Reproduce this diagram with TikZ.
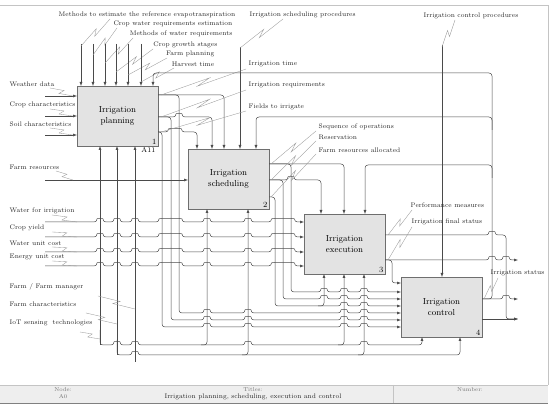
\documentclass[tikz,border=0pt]{standalone}
\usepackage{tikz}
\usetikzlibrary{arrows.meta, calc}
\definecolor{lnGray}{HTML}{4A4A4A}
\definecolor{boxFill}{HTML}{E3E3E3}
\definecolor{boxLine}{HTML}{6E6E6E}
\definecolor{sqGray}{HTML}{9A9A9A}
\definecolor{frameGray}{HTML}{C4C4C4}
\definecolor{bandFill}{HTML}{EEEEEE}

% hop over vertical lines: list of centre/half-width
\newcommand{\hops}[2]{\foreach \c/\w in {#2}{ -- ({\c-\w},#1) .. controls ({\c-\w},{#1-4}) and ({\c+\w},{#1-4}) .. ({\c+\w},#1)}}
% IDEF0 squiggle from a label to its arrow
\newcommand{\squig}[2]{\draw[squig] #1 -- ($#1!0.58!#2!2.2pt!90:#2$) -- ($#1!0.42!#2!2.2pt!-90:#2$) -- #2;}

\begin{document}
\begin{tikzpicture}[x=1pt, y=-1pt,
  ln/.style={draw=lnGray, line width=0.5pt, rounded corners=3pt},
  arr/.style={ln, -{Latex[length=4pt, width=3pt]}},
  func/.style={draw=boxLine, fill=boxFill, line width=0.6pt, minimum width=81pt, minimum height=60pt,
               inner sep=0pt, outer sep=0pt, align=center, font=\fontsize{8.7}{11}\selectfont},
  lbl/.style={font=\fontsize{6.6}{8}\selectfont, inner sep=0.5pt, text=black!85},
  num/.style={font=\fontsize{8}{9}\selectfont, inner sep=1.5pt},
  tb/.style={font=\fontsize{5.6}{7}\selectfont, inner sep=0pt, text=black!55},
  squig/.style={draw=sqGray, line width=0.35pt},
]
\useasboundingbox (0,0) rectangle (550,406);

% frame and title block
\draw[frameGray] (0,5) -- (548,5) -- (548,385);
\fill[bandFill] (0,385) rectangle (548,403);
\draw[frameGray] (0,385) -- (548,385) (393,385) -- (393,403);
\draw[black!50, line width=0.8pt] (0,403.6) -- (548,403.6);
\node[tb] (node-hd) at (63,389.5) {Node:};
\node[tb] (node-id) at (63,396.5) {A0};
\node[tb] (title-hd) at (253,389.5) {Titles:};
\node[tb, text=black!85, font=\fontsize{6.6}{8}\selectfont] (title-tx) at (253,397)
  {Irrigation planning, scheduling, execution and control};
\node[tb] (num-hd) at (470,389.5) {Number:};

% activities
\node[func] (plan)  at (117.5,116) {Irrigation\\planning};
\node[func] (sched) at (228.5,179) {Irrigation\\scheduling};
\node[func] (exec)  at (344.5,244) {Irrigation\\execution};
\node[func] (ctrl)  at (441.5,307) {Irrigation\\control};
\node[num, anchor=south east] (plan-no)  at (plan.south east)  {1};
\node[num, anchor=north east, font=\fontsize{7}{8}\selectfont] (plan-id) at ([xshift=-1pt]plan.south east) {A11};
\node[num, anchor=south east] (sched-no) at (sched.south east) {2};
\node[num, anchor=south east] (exec-no)  at (exec.south east)  {3};
\node[num, anchor=south east] (ctrl-no)  at (ctrl.south east)  {4};

% controls of planning
\foreach \nm/\x/\lx/\ly/\sx/\sy/\ey/\txt in {
    evap/81/236/15/110/19/46/Methods to estimate the reference evapotranspiration,
    cwre/93/233/24/117/28/55/Crop water requirements estimation,
    mwr/105/233/34/133/38/63/Methods of water requirements,
    cgs/116/218/45/153/49/72/Crop growth stages,
    fplan/128/215/54/167/58/75/Farm planning,
    harv/141/215/64/174/68/82/Harvest time}{
  \node[lbl, anchor=east] (\nm) at (\lx,\ly) {\txt};
  \coordinate (\nm-in) at (\x,44);
  \draw[arr] (\nm-in) -- (plan.north -| \nm-in);
  \squig{(\sx,\sy)}{(\x,\ey)}
}

% inputs of planning
\foreach \nm/\ly/\ay/\txt in {weather/84/96/Weather data, cropch/105/116/Crop characteristics,
    soil/124/135/Soil characteristics}{
  \node[lbl, anchor=west] (\nm) at (9,\ly) {\txt};
  \coordinate (\nm-in) at (45,\ay);
  \draw[arr] (\nm-in) -- (plan.west |- \nm-in);
  \squig{(50,\ly+4)}{(73,\ay)}
}

% input of scheduling
\node[lbl, anchor=west] (fres) at (9,167) {Farm resources};
\coordinate (fres-in) at (45,180);
\draw[arr] (fres-in) -- (sched.west |- fres-in);
\squig{(56,171)}{(73,180)}

% inputs of execution
\foreach \nm/\ly/\ay/\txt in {water/211/222/Water for irrigation, yield/228/237/Crop yield,
    wcost/243/252/Water unit cost, ecost/257/266/Energy unit cost}{
  \node[lbl, anchor=west] (\nm) at (9,\ly) {\txt};
  \coordinate (\nm-in) at (45,\ay);
  \draw[arr] (\nm-in) \hops{\ay}{100/3,117/3,135/3,170.5/11.5,207/3,248/3,283/11.5} -- (exec.west |- \nm-in);
  \squig{(52,\ly+4)}{(77,\ay)}
}

% mechanisms
\node[lbl, anchor=west] (farm)  at (9,287) {Farm / Farm manager};
\node[lbl, anchor=west] (fchar) at (9,304) {Farm characteristics};
\node[lbl, anchor=west] (iot)   at (9,323) {IoT sensing\ \ technologies};
\coordinate (farm-in) at (135,362);
\coordinate (fchar-in) at (117,355);
\coordinate (iot-in) at (100,345);
\draw[arr] (farm-in) -- (plan.south -| farm-in);
\draw[arr] (fchar-in) -- (plan.south -| fchar-in);
\draw[arr] (iot-in) -- (plan.south -| iot-in);
\draw[arr] (100,330) -- (iot-in) \hops{345}{117/3,135/3,248/3,364/3} -- (422,345) -- (ctrl.south -| 422,0);
\draw[arr] (117,340) -- (fchar-in) \hops{355}{135/3} -- (460,355) -- (ctrl.south -| 460,0);
\draw[arr] (201,345) -- (207,345) -- (sched.south -| 207,0);
\draw[arr] (242,355) -- (248,355) -- (sched.south -| 248,0);
\draw[arr] (338,345) -- (344,345) -- (exec.south -| 344,0);
\draw[arr] (358,355) -- (364,355) -- (exec.south -| 364,0);
\squig{(98,296)}{(135,309)}
\squig{(86,313)}{(117,324)}
\squig{(80,332)}{(100,339)}

% controls from outside
\node[lbl, anchor=west] (schedproc) at (249,15) {Irrigation scheduling procedures};
\coordinate (schedproc-in) at (240,47);
\draw[arr] (schedproc-in) -- (sched.north -| schedproc-in);
\squig{(283,19)}{(240,48)}
\node[lbl, anchor=west] (ctrlproc) at (423,16) {Irrigation control procedures};
\coordinate (ctrlproc-in) at (442,45);
\draw[arr] (ctrlproc-in) -- (ctrl.north -| ctrlproc-in);
\squig{(455,20)}{(442,47)}

% outputs of planning
\draw[arr] (plan.east |- 0,95) -- (224,95) -- (sched.north -| 224,0);
\draw[arr] (plan.east |- 0,117) \hops{117}{179/3} -- (212,117) -- (sched.north -| 212,0);
\draw[arr] (plan.east |- 0,132) \hops{132}{175/6.5} -- (197,132) -- (sched.north -| 197,0);
\draw[arr] (plan.east |- 0,95) -- (179,95) -- (179,313) \hops{313}{207/3,248/3,344/3,364/3} -- (ctrl.west |- 0,313);
\draw[arr] (plan.east |- 0,117) -- (171,117) -- (171,320) \hops{320}{207/3,248/3,344/3,364/3} -- (ctrl.west |- 0,320);
\draw[arr] (plan.east |- 0,132) -- (162,132) -- (162,327) \hops{327}{207/3,248/3,344/3,364/3} -- (ctrl.west |- 0,327);
\node[lbl, anchor=west] (itime) at (248,64) {Irrigation time};
\node[lbl, anchor=west] (ireq)  at (248,85) {Irrigation requirements};
\node[lbl, anchor=west] (fields) at (248,107) {Fields to irrigate};
\squig{(246,69)}{(161,95)}
\squig{(246,90)}{(161,117)}
\squig{(246,111)}{(161,132)}

% outputs of scheduling
\draw[arr] (sched.east |- 0,164) -- (344,164) -- (exec.north -| 344,0);
\draw[arr] (sched.east |- 0,180) \hops{180}{291/3} -- (321,180) -- (exec.north -| 321,0);
\draw[arr] (sched.east |- 0,164) -- (291,164) -- (291,292) \hops{292}{324/3,344/3,364/3} -- (ctrl.west |- 0,292);
\draw[arr] (sched.east |- 0,180) -- (283,180) -- (283,299) \hops{299}{324/3,344/3,364/3} -- (ctrl.west |- 0,299);
\draw[arr] (sched.east |- 0,197) -- (275,197) -- (275,306) \hops{306}{344/3,364/3} -- (ctrl.west |- 0,306);
\draw[arr] (318,306) -- (324,306) -- (exec.south -| 324,0);
\node[lbl, anchor=west] (seq)  at (318,127) {Sequence of operations};
\node[lbl, anchor=west] (resv) at (318,137) {Reservation};
\node[lbl, anchor=west] (fralloc) at (318,150) {Farm resources allocated};
\squig{(316,131)}{(271,164)}
\squig{(316,141)}{(271,180)}
\squig{(316,154)}{(271,197)}

% outputs of execution
\coordinate (perf-out) at (518,319);
\coordinate (final-out) at (518,260);
\draw[arr] (exec.east |- 0,235) \hops{235}{492/3} -- (506,235) -- (506,319) -- (perf-out);
\draw[arr] (exec.east |- 0,260) \hops{260}{492/3,506/3} -- (final-out);
\draw[arr] (exec.east |- 0,260) -- (392,260) -- (392,283) -- (ctrl.west |- 0,283);
\node[lbl, anchor=west] (perf)  at (410,205) {Performance measures};
\node[lbl, anchor=west] (final) at (411,222) {Irrigation final status};
\squig{(412,210)}{(388,235)}
\squig{(412,227)}{(388,260)}

% outputs of control and feedback
\coordinate (status-out) at (518,299);
\draw[arr] (ctrl.east |- 0,299) \hops{299}{506/3} -- (status-out);
\draw[arr] (ctrl.east |- 0,319) -- (perf-out);
\draw[arr] (ctrl.east |- 0,299) -- (492,299) -- (492,73) -- (153,73) -- (plan.north -| 153,0);
\draw[arr] (492,130) -- (492,117) -- (256,117) -- (sched.north -| 256,0);
\draw[arr] (492,178) -- (492,165) -- (365,165) -- (exec.north -| 365,0);
\node[lbl, anchor=west] (status) at (490,273) {Irrigation status};
\squig{(498,278)}{(484,299)}
\end{tikzpicture}
\end{document}
